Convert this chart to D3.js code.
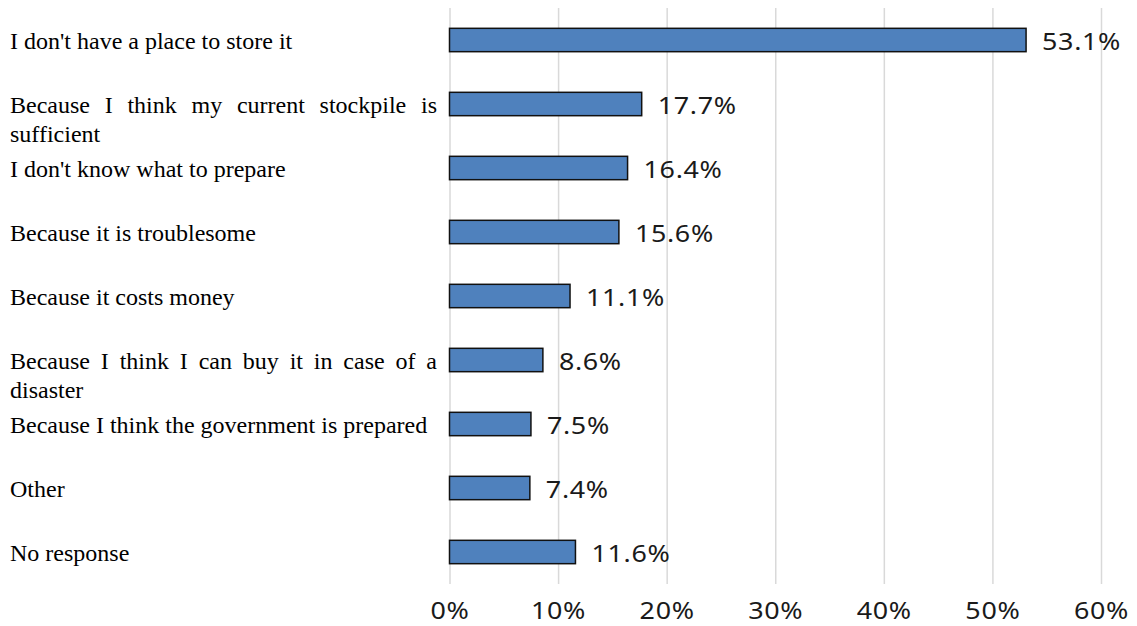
<!DOCTYPE html>
<html>
<head>
<meta charset="utf-8">
<script src="https://cdn.jsdelivr.net/npm/d3@7"></script>
<style>
  body { margin: 0; background: #fff; }
  svg { display: block; }
</style>
</head>
<body>
<svg id="chart" width="1137" height="626"></svg>
<script>
// Reasons for not stockpiling (share of respondents, %)
const categories = [
  "I don't have a place to store it",
  "Because I think my current stockpile is sufficient",
  "I don't know what to prepare",
  "Because it is troublesome",
  "Because it costs money",
  "Because I think I can buy it in case of a disaster",
  "Because I think the government is prepared",
  "Other",
  "No response"
];
const values = [53.1, 17.7, 16.4, 15.6, 11.1, 8.6, 7.5, 7.4, 11.6];
const tickValues = [0, 10, 20, 30, 40, 50, 60];

const svg = d3.select("#chart");

const plot = { left: 449.5, right: 1101, top: 8, bottom: 584 };
const labelBox = { x: 10, width: 427 };
const numStretch = 1.12;   // wide sans look for the numbers

const x = d3.scaleLinear().domain([0, 60]).range([plot.left, plot.right]);
const y = d3.scaleBand()
  .domain(categories)
  .range([plot.top, plot.bottom])
  .paddingInner(0.635)
  .paddingOuter(0.3175);

// vertical gridlines
const grid = svg.append("g")
  .attr("transform", `translate(0,${plot.bottom})`)
  .call(d3.axisBottom(x).tickValues(tickValues).tickSize(-(plot.bottom - plot.top)).tickFormat(""));
grid.select(".domain").remove();
grid.selectAll("line").attr("stroke", "#d9d9d9").attr("stroke-width", 1.5);

// percentage tick labels
const axis = svg.append("g")
  .attr("transform", `translate(0,${plot.bottom})`)
  .call(d3.axisBottom(x).tickValues(tickValues).tickSize(0).tickPadding(18).tickFormat(d => d + "%"));
axis.select(".domain").remove();
axis.selectAll("text")
  .attr("fill", "#1a1a1a")
  .attr("transform", `scale(${numStretch},1)`)
  .style("font-family", "'Noto Sans', sans-serif")
  .style("font-size", "24px")
  .style("letter-spacing", "0.6px");

// bars
svg.append("g").selectAll("rect")
  .data(categories)
  .join("rect")
  .attr("x", x(0))
  .attr("y", d => y(d))
  .attr("width", (d, i) => x(values[i]) - x(0))
  .attr("height", y.bandwidth())
  .attr("fill", "#4f81bd")
  .attr("stroke", "#111")
  .attr("stroke-width", 1.5);

// value labels
svg.append("g").selectAll("text")
  .data(categories)
  .join("text")
  .attr("transform", (d, i) =>
    `translate(${x(values[i]) + 16},${y(d) + y.bandwidth() / 2 + 10}) scale(${numStretch},1)`)
  .attr("fill", "#1a1a1a")
  .style("font-family", "'Noto Sans', sans-serif")
  .style("font-size", "24px")
  .style("letter-spacing", "0.6px")
  .text((d, i) => values[i].toFixed(1) + "%");

// category labels: wrapped and justified inside a fixed-width box
const labelFont = { family: "'Liberation Serif', 'Times New Roman', serif", size: 24 };
const measurer = svg.append("text")
  .style("font-family", labelFont.family)
  .style("font-size", labelFont.size + "px")
  .attr("visibility", "hidden");
const measure = s => { measurer.text(s); return measurer.node().getComputedTextLength(); };

const labels = svg.append("g");
categories.forEach(cat => {
  const words = cat.split(" ");
  const lines = [];
  let current = [];
  words.forEach(w => {
    const trial = current.concat(w).join(" ");
    if (current.length && measure(trial) > labelBox.width) {
      lines.push(current);
      current = [w];
    } else {
      current.push(w);
    }
  });
  lines.push(current);

  const cy = y(cat) + y.bandwidth() / 2;
  const baseline0 = cy + (lines.length > 1 ? 9 : 8.5);
  const lineH = 28.5;

  const t = labels.append("text")
    .attr("fill", "#000")
    .style("font-family", labelFont.family)
    .style("font-size", labelFont.size + "px");

  lines.forEach((ln, li) => {
    const by = baseline0 + li * lineH;
    const isLast = li === lines.length - 1;
    if (isLast || ln.length < 2) {
      t.append("tspan").attr("x", labelBox.x).attr("y", by).text(ln.join(" "));
    } else {
      const widths = ln.map(measure);
      const gap = (labelBox.width - d3.sum(widths)) / (ln.length - 1);
      let cx = labelBox.x;
      ln.forEach((w, wi) => {
        t.append("tspan").attr("x", cx).attr("y", by).text(w);
        cx += widths[wi] + gap;
      });
    }
  });
});
measurer.remove();
</script>
</body>
</html>
